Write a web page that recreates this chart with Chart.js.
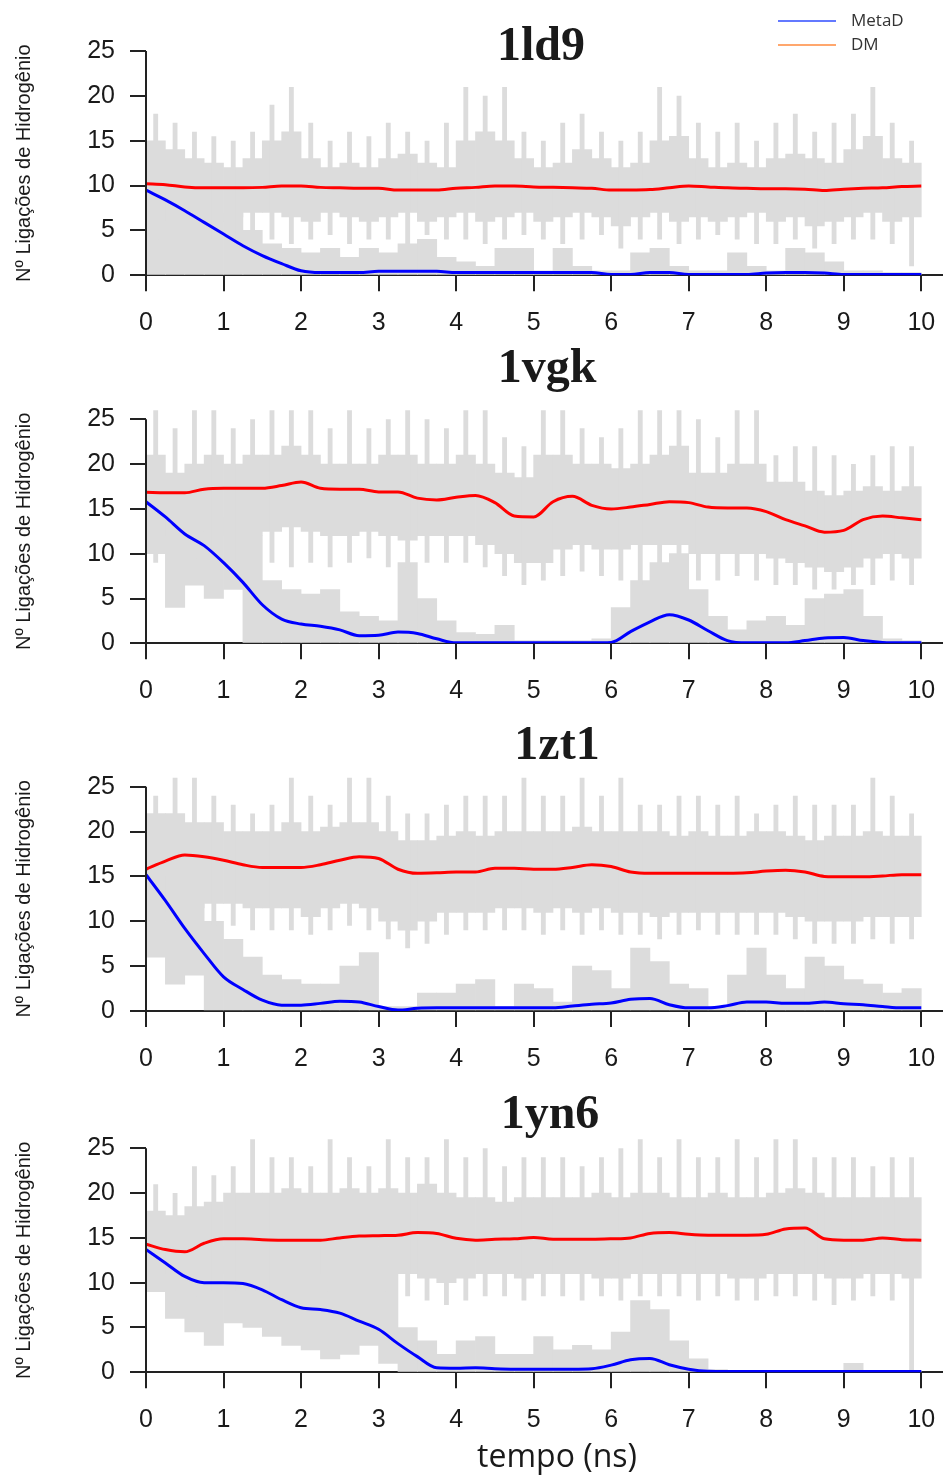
<!DOCTYPE html>
<html>
<head>
<meta charset="utf-8">
<script src="https://cdn.jsdelivr.net/npm/chart.js@4.4.1/dist/chart.umd.min.js"></script>
<style>
  html, body { margin: 0; padding: 0; background: #fff; }
  #wrap { position: relative; width: 943px; height: 1475px; }
  canvas { position: absolute; left: 0; }
</style>
</head>
<body>
<div id="wrap"></div>
<script>
// tempo (ns), one sample every 0.25 ns
const times = [0, 0.25, 0.5, 0.75, 1, 1.25, 1.5, 1.75, 2, 2.25, 2.5, 2.75, 3, 3.25, 3.5, 3.75,
  4, 4.25, 4.5, 4.75, 5, 5.25, 5.5, 5.75, 6, 6.25, 6.5, 6.75, 7, 7.25, 7.5, 7.75,
  8, 8.25, 8.5, 8.75, 9, 9.25, 9.5, 9.75, 10];
const xTicks = [0, 1, 2, 3, 4, 5, 6, 7, 8, 9, 10];
const yTicks = [0, 5, 10, 15, 20, 25];
const seriesNames = ['MetaD', 'DM'];

// ---- 1ld9 ----
const red1ld9 = [10.2,10.1,9.85,9.75,9.75,9.75,9.8,9.95,9.95,9.8,9.75,9.7,9.7,9.5,9.5,9.5,9.7,9.8,9.95,9.95,9.85,9.8,9.75,9.7,9.5,9.5,9.55,9.75,9.95,9.85,9.75,9.7,9.65,9.65,9.6,9.45,9.6,9.7,9.75,9.9,9.95];
const blue1ld9 = [9.5,8.4,7.2,5.9,4.6,3.3,2.2,1.3,0.5,0.3,0.3,0.3,0.45,0.45,0.45,0.45,0.3,0.3,0.3,0.3,0.3,0.3,0.3,0.3,0.1,0.1,0.3,0.3,0.1,0.1,0.1,0.1,0.25,0.3,0.3,0.25,0.1,0.1,0.1,0.1,0.1];
// raw H-bond counts, per 0.25 ns bin: extremes and dense band
const dmMax1ld9 = [18,17,16,15.5,15,16,19,21,17,15,16,15.5,17,16,15,17,21,20,21,16,15,17,18,16,15,16,21,20,17,16,17,15,17,18,16,17,18,21,17,15];
const dmHi1ld9 = [15,14,13,12.5,12,13,15,16,13,12,12.5,12,13,13.5,12.5,12,15,16,15,13,12,12.5,14,13,12,12.5,15,15.5,13,12,12.5,12,13,13.5,13,12.5,14,15.5,13,12.5];
const dmLo1ld9 = [5,6,6,6,6.5,7,7,6.5,6,7,6.5,6,6.5,7,6,6.5,7,6,6.5,7,6,6.5,7,6.5,5.5,6.5,7,6,6.5,6,6.5,7,6,6.5,5.5,6,6.5,7,6,6.5];
const dmMin1ld9 = [4,4,4.5,4,4,3.5,4,3.5,4,4.5,3.5,4,4,3.5,4.5,4,4,3.5,4,4.5,4,3.5,4,4.5,3,4,4,3.5,4,4.5,4,3.5,3.5,4,3,3.5,4,4,3.5,1];
const mdHi1ld9 = [9,8,7,6.5,7,5,3.5,3,2.5,3,2,3,2.5,3.5,4,2,1.5,1,3,3,0.5,3,1,0.5,0.5,2.5,3,1,0.5,0.5,2.5,1,0.5,3,2.5,1.5,0.5,0.5,0.3,0.3];
const mdLo1ld9 = [0,0,0,0,0,0,0,0,0,0,0,0,0,0,0,0,0,0,0,0,0,0,0,0,0,0,0,0,0,0,0,0,0,0,0,0,0,0,0,0];

// ---- 1vgk ----
const red1vgk = [16.85,16.8,16.8,17.2,17.3,17.3,17.3,17.6,18.0,17.3,17.2,17.2,16.9,16.9,16.2,16.0,16.3,16.5,15.7,14.2,14.1,15.8,16.4,15.4,15.0,15.2,15.5,15.8,15.7,15.2,15.1,15.1,14.7,13.8,13.1,12.4,12.6,13.8,14.2,14.0,13.8];
const blue1vgk = [15.8,14.1,12.2,10.9,9.0,6.8,4.3,2.7,2.15,1.9,1.5,0.85,0.9,1.25,1.1,0.5,0.05,0.05,0.05,0.05,0.05,0.05,0.05,0.05,0.1,1.3,2.4,3.2,2.6,1.4,0.3,0.05,0.05,0.05,0.3,0.6,0.65,0.3,0.1,0.05,0.05];
const dmMax1vgk = [26,24,26,26,24,25,26,26,26,24,26,24,25,26,25,24,26,26,23,22,26,26,24,23,24,26,26,26,25,23,26,26,21,22,22,21,20,21,22,22];
const dmHi1vgk = [21,19,20,21,20,21,21,22,21,20,20,20,21,21,20,20,21,20,19,18.5,21,21,20,20,19.5,20,21,22,19,19,20,20,18,18,17,16.5,17,17.5,17,17.5];
const dmLo1vgk = [12,12,12,12.5,12,12,12.5,13,12.5,12,12,12.5,12,11.5,12,12,12,11,10,9,9,10.5,11,10.5,10.5,11,11,11,10,10,10,10,9.5,9,8.5,8,8.5,9.5,10,9.5];
const dmMin1vgk = [9,9,9.5,10,9,9.5,9,8.5,9,8.5,9,9.5,8.5,8.5,9,9,9,8.5,7.5,6.5,7,7.5,8,7.5,7,6.5,7,7.5,7,7,7.5,7,6.5,6.5,6,6,6.5,6.5,7,6.5];
const mdHi1vgk = [14,14,14,14,14,12,7,6,5.5,6,3.5,3,2.5,9,5,2.5,1.2,1,2,0.3,0.3,0.3,0.3,0.5,4,7,9,10,6,3,1.5,2.5,3,2,5,5.5,6,3,0.5,0.3];
const mdLo1vgk = [10,4,6.5,5,6,0,0,0,0,0,0,0,0,0,0,0,0,0,0,0,0,0,0,0,0,0,0,0,0,0,0,0,0,0,0,0,0,0,0,0];

// ---- 1zt1 ----
const red1zt1 = [15.8,16.7,17.4,17.2,16.8,16.3,16.0,16.0,16.0,16.3,16.8,17.2,17.0,15.8,15.35,15.4,15.5,15.5,15.9,15.9,15.8,15.8,16.0,16.3,16.1,15.5,15.35,15.35,15.35,15.35,15.35,15.4,15.6,15.7,15.5,15.0,14.95,14.95,15.05,15.2,15.2];
const blue1zt1 = [15.2,12.3,9.2,6.4,3.8,2.4,1.2,0.65,0.65,0.85,1.1,1.0,0.5,0.1,0.3,0.35,0.35,0.35,0.35,0.35,0.35,0.35,0.55,0.75,0.9,1.3,1.4,0.7,0.35,0.35,0.6,1.0,1.0,0.85,0.85,1.0,0.8,0.7,0.5,0.35,0.35];
const dmMax1zt1 = [24,26,26,24,23,22,23,26,24,23,26,26,24,22,22,23,24,24,24,26,24,24,26,24,26,23,23,24,24,23,24,22,23,24,23,23,23,26,24,22];
const dmHi1zt1 = [22,22,21,21,20,20,20,21,20,20.5,21,21,20,19,19,19.5,20,19.5,20,20,20,20,20.5,20,20,20,20,19.5,20,19.5,19.5,20,20,19.5,19,19.5,19.5,20,19.5,19.5];
const dmLo1zt1 = [10,11,11.5,12,12,11.5,11.5,11.5,10.5,11.5,12,11.5,10,9,10,11,11,11,11.5,11.5,11,11.5,11,11.5,11,11,10.5,11,11,11,11,11,11,10.5,10,10,10,10.5,10.5,10.5];
const dmMin1zt1 = [8,9,9,9.5,9.5,9,9,9,8.5,9,9.5,9,8,7,7.5,8.5,9,9,9,9,8.5,9,8.5,9,8.5,8.5,8,8.5,9,8.5,8.5,8.5,8.5,8,7.5,7.5,7.5,8,7.5,8];
const mdHi1zt1 = [15,14,13,10,8,6,4,3.5,3,3,5,6.5,0.5,0.5,2,2,3,3.5,0.5,3,2.5,1,5,4.5,2.5,7,5.5,3,2.5,0.5,4,7,4,2.5,6,5,3.5,3,2,2.5];
const mdLo1zt1 = [6,3,4,0,0,0,0,0,0,0,0,0,0,0,0,0,0,0,0,0,0,0,0,0,0,0,0,0,0,0,0,0,0,0,0,0,0,0,0,0];

// ---- 1yn6 ----
const red1yn6 = [14.3,13.7,13.45,14.4,14.9,14.9,14.8,14.75,14.75,14.75,15.0,15.2,15.25,15.3,15.6,15.5,14.95,14.75,14.85,14.9,15.05,14.85,14.85,14.85,14.9,15.0,15.5,15.6,15.4,15.3,15.3,15.3,15.4,16.0,16.1,14.9,14.75,14.75,15.0,14.8,14.75];
const blue1yn6 = [13.7,12.2,10.7,10.0,10.0,9.9,9.2,8.1,7.2,7.0,6.6,5.7,4.8,3.2,1.75,0.5,0.45,0.5,0.4,0.35,0.35,0.35,0.35,0.4,0.8,1.4,1.55,0.85,0.35,0.12,0.1,0.1,0.1,0.1,0.1,0.1,0.1,0.1,0.1,0.1,0.1];
const dmMax1yn6 = [21,20,23,22,23,26,24,24,23,26,24,23,26,24,24,26,24,25,23,24,24,24,23,24,25,26,24,26,24,24,26,24,26,26,24,24,24,23,24,24];
const dmHi1yn6 = [18,17.5,18.5,19,20,20,20,20.5,20,20,20.5,20,20.5,20,21,20,19.5,19.5,19,19.5,19.5,19.5,19.5,20,19.5,20,20,19.5,19.5,20,19.5,19.5,20,20.5,20,19.5,19.5,19.5,19.5,19.5];
const dmLo1yn6 = [11,11,11,11,11,11,11,11,11,11,11,11,11,11,10.5,10,10.5,11,11,10.5,11,11,11,10.5,10.5,11,11,11,11,11,10.5,10.5,11,11,11,10.5,10.5,11,11,10.5];
const dmMin1yn6 = [9,9,8.5,9,9,8.5,9,9,8.5,9,9,8.5,9,8.5,8,7.5,8,8.5,8.5,8,8.5,8.5,8,8.5,8,8.5,8.5,8.5,8,8.5,8,8,8.5,8.5,8,7.5,8,8.5,8,0];
const mdHi1yn6 = [14,14,14,14,14,14,14,14,14,14,14,14,11,5,3.5,2,3.5,4,2,2,4,2.5,3,2.5,4.5,8,7,3.5,1.5,0.3,0.2,0.2,0.2,0.2,0.2,0.2,1,0.2,0.2,0.2];
const mdLo1yn6 = [9,6,4.5,3,5.5,5,4,3,2.5,1.5,2,3,1,0,0,0,0,0,0,0,0,0,0,0,0,0,0,0,0,0,0,0,0,0,0,0,0,0,0,0];

const yTitle = 'Nº Ligações de Hidrogênio';
const xTitle = 'tempo (ns)';

const GRAY = '#dcdcdc';
const INK = '#1a1a1a';
Chart.defaults.font.family = '"Liberation Sans", Arial, sans-serif';

// page layout of the four panels (pixels)
const panels = [
  { name: '1ld9', red: red1ld9, blue: blue1ld9, dmMax: dmMax1ld9, dmHi: dmHi1ld9, dmLo: dmLo1ld9, dmMin: dmMin1ld9, mdHi: mdHi1ld9, mdLo: mdLo1ld9,
    top: 0, height: 340, y0: 275.3, y25: 51, titleX: 541, titleY: 60, legend: true },
  { name: '1vgk', red: red1vgk, blue: blue1vgk, dmMax: dmMax1vgk, dmHi: dmHi1vgk, dmLo: dmLo1vgk, dmMin: dmMin1vgk, mdHi: mdHi1vgk, mdLo: mdLo1vgk,
    top: 340, height: 375, y0: 643.3, y25: 419.3, titleX: 547, titleY: 382 },
  { name: '1zt1', red: red1zt1, blue: blue1zt1, dmMax: dmMax1zt1, dmHi: dmHi1zt1, dmLo: dmLo1zt1, dmMin: dmMin1zt1, mdHi: mdHi1zt1, mdLo: mdLo1zt1,
    top: 715, height: 367, y0: 1011, y25: 786.7, titleX: 557, titleY: 759 },
  { name: '1yn6', red: red1yn6, blue: blue1yn6, dmMax: dmMax1yn6, dmHi: dmHi1yn6, dmLo: dmLo1yn6, dmMin: dmMin1yn6, mdHi: mdHi1yn6, mdLo: mdLo1yn6,
    top: 1082, height: 393, y0: 1372.3, y25: 1148.3, titleX: 550, titleY: 1128, xTitle: true }
];

const Y_MAX = 26.1;
const X_MAX = 10.28;

const decor = {
  id: 'decor',
  afterDraw(chart, args, o) {
    const { ctx, chartArea, scales: { y } } = chart;
    const yBottom = y.getPixelForValue(0);
    const yTop = y.getPixelForValue(25);
    ctx.save();
    // left axis only spans the tick range
    ctx.strokeStyle = '#222';
    ctx.lineWidth = 2;
    ctx.beginPath();
    ctx.moveTo(chartArea.left, yBottom + 1);
    ctx.lineTo(chartArea.left, yTop);
    ctx.stroke();

    ctx.fillStyle = INK;
    ctx.font = 'bold 48px "Liberation Serif", "Times New Roman", serif';
    ctx.textAlign = 'center';
    ctx.textBaseline = 'alphabetic';
    ctx.fillText(o.name, o.titleX, o.titleY - o.top);

    if (o.legend) {
      const rows = [[seriesNames[0], '#2f4dff', 21], [seriesNames[1], '#ff8a3d', 45]];
      ctx.font = '17px "Open Sans", sans-serif';
      ctx.textAlign = 'left';
      ctx.textBaseline = 'middle';
      rows.forEach(r => {
        ctx.strokeStyle = r[1];
        ctx.lineWidth = 1.5;
        ctx.beginPath();
        ctx.moveTo(778, r[2]);
        ctx.lineTo(836, r[2]);
        ctx.stroke();
        ctx.fillStyle = '#333';
        ctx.fillText(r[0], 851, r[2]);
      });
    }

    if (o.xTitle) {
      ctx.fillStyle = INK;
      ctx.font = '32px "Open Sans", sans-serif';
      ctx.textAlign = 'center';
      ctx.textBaseline = 'middle';
      ctx.fillText(xTitle, 557, 1458 - o.top);
    }

    ctx.translate(24, (yBottom + yTop) / 2);
    ctx.rotate(-Math.PI / 2);
    ctx.font = '20px "Liberation Sans", Arial, sans-serif';
    ctx.textAlign = 'center';
    ctx.textBaseline = 'middle';
    ctx.fillStyle = INK;
    ctx.fillText(yTitle, 0, 0);
    ctx.restore();
  }
};

const wrap = document.getElementById('wrap');
const binMid = times.slice(0, -1).map(t => t + 0.125);

panels.forEach(p => {
  const canvas = document.createElement('canvas');
  canvas.width = 943;
  canvas.height = p.height;
  canvas.style.top = p.top + 'px';
  canvas.style.width = '943px';
  canvas.style.height = p.height + 'px';
  wrap.appendChild(canvas);

  const unit = (p.y0 - p.y25) / 25;
  const padTop = p.y0 - Y_MAX * unit - p.top;
  const xHeight = p.top + p.height - p.y0;

  const bars = (lo, hi) => binMid.map((t, i) => ({ x: t, y: [lo[i], hi[i]] }));

  new Chart(canvas, {
    type: 'bar',
    data: {
      datasets: [
        { type: 'line', label: seriesNames[0], data: times.map((t, i) => ({ x: t, y: p.blue[i] })),
          borderColor: '#0000ff', borderWidth: 3, pointRadius: 0, cubicInterpolationMode: 'monotone', order: 0 },
        { type: 'line', label: seriesNames[1], data: times.map((t, i) => ({ x: t, y: p.red[i] })),
          borderColor: '#ff0000', borderWidth: 3, pointRadius: 0, cubicInterpolationMode: 'monotone', order: 1 },
        { label: 'DM extremos', data: bars(p.dmMin, p.dmMax), backgroundColor: GRAY,
          barPercentage: 0.25, categoryPercentage: 1, grouped: false, order: 2 },
        { label: 'DM', data: bars(p.dmLo, p.dmHi), backgroundColor: GRAY,
          barPercentage: 1, categoryPercentage: 1, grouped: false, order: 3 },
        { label: 'MetaD', data: bars(p.mdLo, p.mdHi), backgroundColor: GRAY,
          barPercentage: 1, categoryPercentage: 1, grouped: false, order: 4 }
      ]
    },
    options: {
      responsive: false,
      animation: false,
      events: [],
      layout: { padding: { top: padTop, left: 0, right: 0, bottom: 0 } },
      plugins: {
        legend: { display: false },
        tooltip: { enabled: false },
        title: { display: false },
        decor: p
      },
      scales: {
        x: {
          type: 'linear', min: 0, max: X_MAX, offset: false,
          afterBuildTicks: s => { s.ticks = xTicks.map(v => ({ value: v })); },
          afterFit: s => { s.height = xHeight; s.paddingLeft = 0; s.paddingRight = 0; },
          grid: { display: true, drawOnChartArea: false, drawTicks: true, tickLength: 16, color: '#222', lineWidth: 2, offset: false },
          border: { display: true, color: '#222', width: 2 },
          ticks: { font: { size: 25 }, color: INK, padding: 17, maxRotation: 0, autoSkip: false }
        },
        y: {
          min: 0, max: Y_MAX,
          afterBuildTicks: s => { s.ticks = yTicks.map(v => ({ value: v })); },
          afterFit: s => { s.width = 146; s.paddingTop = 0; s.paddingBottom = 0; },
          grid: { display: true, drawOnChartArea: false, drawTicks: true, tickLength: 16, color: '#222', lineWidth: 2 },
          border: { display: false },
          ticks: { font: { size: 25 }, color: INK, padding: 15 }
        }
      }
    },
    plugins: [decor]
  });
});
</script>
</body>
</html>
